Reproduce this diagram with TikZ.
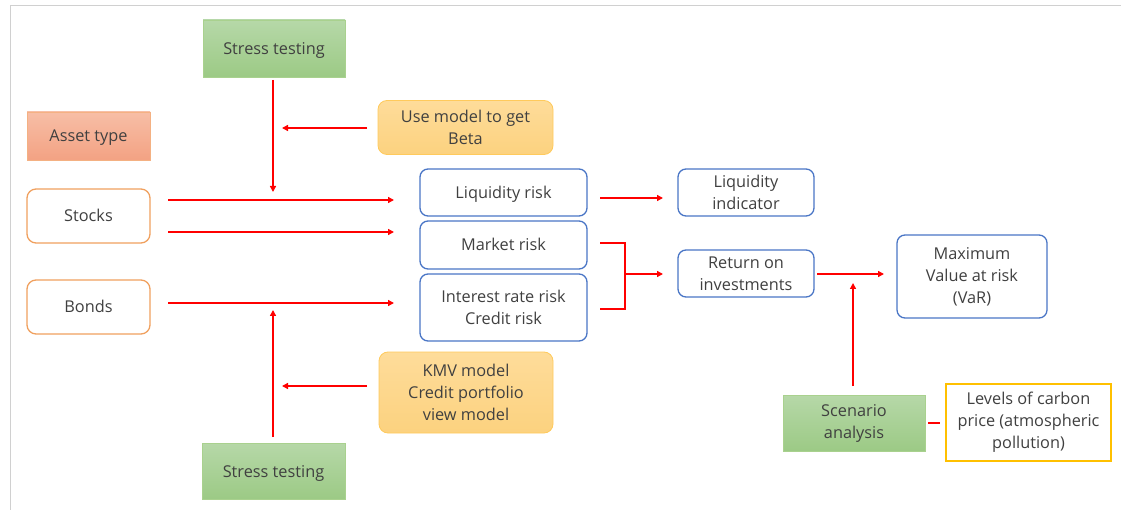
\documentclass[tikz,border=0pt]{standalone}
\usepackage{fontspec}
\setmainfont{Open Sans}
\usetikzlibrary{arrows.meta}
\definecolor{txt}{HTML}{404040}
\definecolor{greenT}{HTML}{B6D8A8}
\definecolor{greenB}{HTML}{9CCA85}
\definecolor{greenD}{HTML}{A9D18E}
\definecolor{salT}{HTML}{F7BEA6}
\definecolor{salB}{HTML}{F3A283}
\definecolor{salD}{HTML}{F4B183}
\definecolor{yelT}{HTML}{FEDC9A}
\definecolor{yelB}{HTML}{FCD27F}
\definecolor{yelD}{HTML}{FFCA5C}
\definecolor{orgD}{HTML}{F0A05E}
\definecolor{bluD}{HTML}{4A76C6}
\definecolor{goldD}{HTML}{FFC000}
\definecolor{frameC}{HTML}{D0D0D0}
\tikzset{
  basebox/.style={minimum width=#1, align=center, text=txt, font=\fontsize{16.3}{22}\selectfont, inner sep=0pt},
  oneline/.style={text height=12pt, text depth=0pt},
  greenbox/.style={basebox=142pt, draw=greenD, top color=greenT, bottom color=greenB, line width=0.8pt},
  salbox/.style={basebox=123pt, draw=salD, top color=salT, bottom color=salB, line width=0.8pt},
  yelbox/.style={basebox=175pt, draw=yelD, top color=yelT, bottom color=yelB, rounded corners=9pt, line width=0.8pt},
  orgbox/.style={basebox=123pt, draw=orgD, fill=white, rounded corners=9pt, line width=1.3pt},
  blubox/.style={basebox=#1, draw=bluD, fill=white, rounded corners=8pt, line width=1.3pt},
  goldbox/.style={basebox=165pt, draw=goldD, fill=white, line width=1.3pt},
  arr/.style={draw=red, line width=1.4pt, -{Triangle[length=6pt,width=6pt]}},
  ln/.style={draw=red, line width=1.4pt},
}
\begin{document}
\begin{tikzpicture}[x=1pt,y=-1pt]
\useasboundingbox (0,0) rectangle (1121,510);
\draw[frameC, line width=1pt] (10,510) -- (10,6) -- (1121,6);

\node[greenbox, oneline, minimum height=57pt] (st1) at (274,48.5) {Stress testing};
\node[salbox, oneline, minimum height=48pt] (asset) at (88.5,136) {Asset type};
\node[yelbox, minimum height=54pt] (beta) at (465.5,127.5) {Use model to get\\Beta};
\node[orgbox, oneline, minimum height=54pt] (stocks) at (88.5,216) {Stocks};
\node[orgbox, oneline, minimum height=54pt] (bonds) at (88.5,307) {Bonds};
\node[blubox=167pt, oneline, minimum height=47pt] (liq) at (503.5,192.5) {Liquidity risk};
\node[blubox=167pt, oneline, minimum height=48pt] (mkt) at (503.5,245) {Market risk};
\node[blubox=167pt, minimum height=67pt] (irr) at (503.5,307.5) {Interest rate risk\\Credit risk};
\node[blubox=136pt, minimum height=47pt] (liqind) at (746,192.5) {Liquidity\\indicator};
\node[blubox=136pt, minimum height=47pt] (roi) at (746,273.5) {Return on\\investments};
\node[blubox=150pt, minimum height=83pt] (var) at (972,276.5) {Maximum\\Value at risk\\(VaR)};
\node[yelbox, minimum height=81pt, basebox=174pt] (kmv) at (466,392.5) {KMV model\\Credit portfolio\\view model};
\node[greenbox, oneline, minimum height=56pt, basebox=143pt] (st2) at (273.5,471) {Stress testing};
\node[greenbox, minimum height=56pt] (scen) at (854,423) {Scenario\\analysis};
\node[goldbox, minimum height=77pt] (carbon) at (1028.5,422.5) {Levels of carbon\\price (atmospheric\\pollution)};

% connectors (free-standing arrows, as in the reference)
\coordinate (a1s) at (273,80);
\coordinate (a1e) at (273,192);
\draw[arr] (a1s) -- (a1e);
\coordinate (b1s) at (367,128);
\coordinate (b1e) at (282,128);
\draw[arr] (b1s) -- (b1e);
\coordinate (s1s) at (168,200);
\coordinate (s1e) at (394,200);
\draw[arr] (s1s) -- (s1e);
\coordinate (s2s) at (168,232);
\coordinate (s2e) at (394,232);
\draw[arr] (s2s) -- (s2e);
\coordinate (bos) at (168,303);
\coordinate (boe) at (394,303);
\draw[arr] (bos) -- (boe);
\coordinate (a2s) at (273,437);
\coordinate (a2e) at (273,310);
\draw[arr] (a2s) -- (a2e);
\coordinate (k1s) at (367,386);
\coordinate (k1e) at (282,386);
\draw[arr] (k1s) -- (k1e);
\coordinate (l1s) at (600,198);
\coordinate (l1e) at (663,198);
\draw[arr] (l1s) -- (l1e);
\coordinate (brA) at (600,243);
\coordinate (brB) at (600,309);
\coordinate (brM) at (625,274);
\coordinate (brE) at (663,274);
\draw[ln] (brA) -| (brM) |- (brB);
\draw[arr] (brM) -- (brE);
\coordinate (r1s) at (817,274);
\coordinate (r1e) at (884,274);
\draw[arr] (r1s) -- (r1e);
\coordinate (scs) at (853,386);
\coordinate (sce) at (853,283);
\draw[arr] (scs) -- (sce);
\coordinate (c1s) at (928,423);
\coordinate (c1e) at (940,423);
\draw[ln] (c1s) -- (c1e);
\end{tikzpicture}
\end{document}
